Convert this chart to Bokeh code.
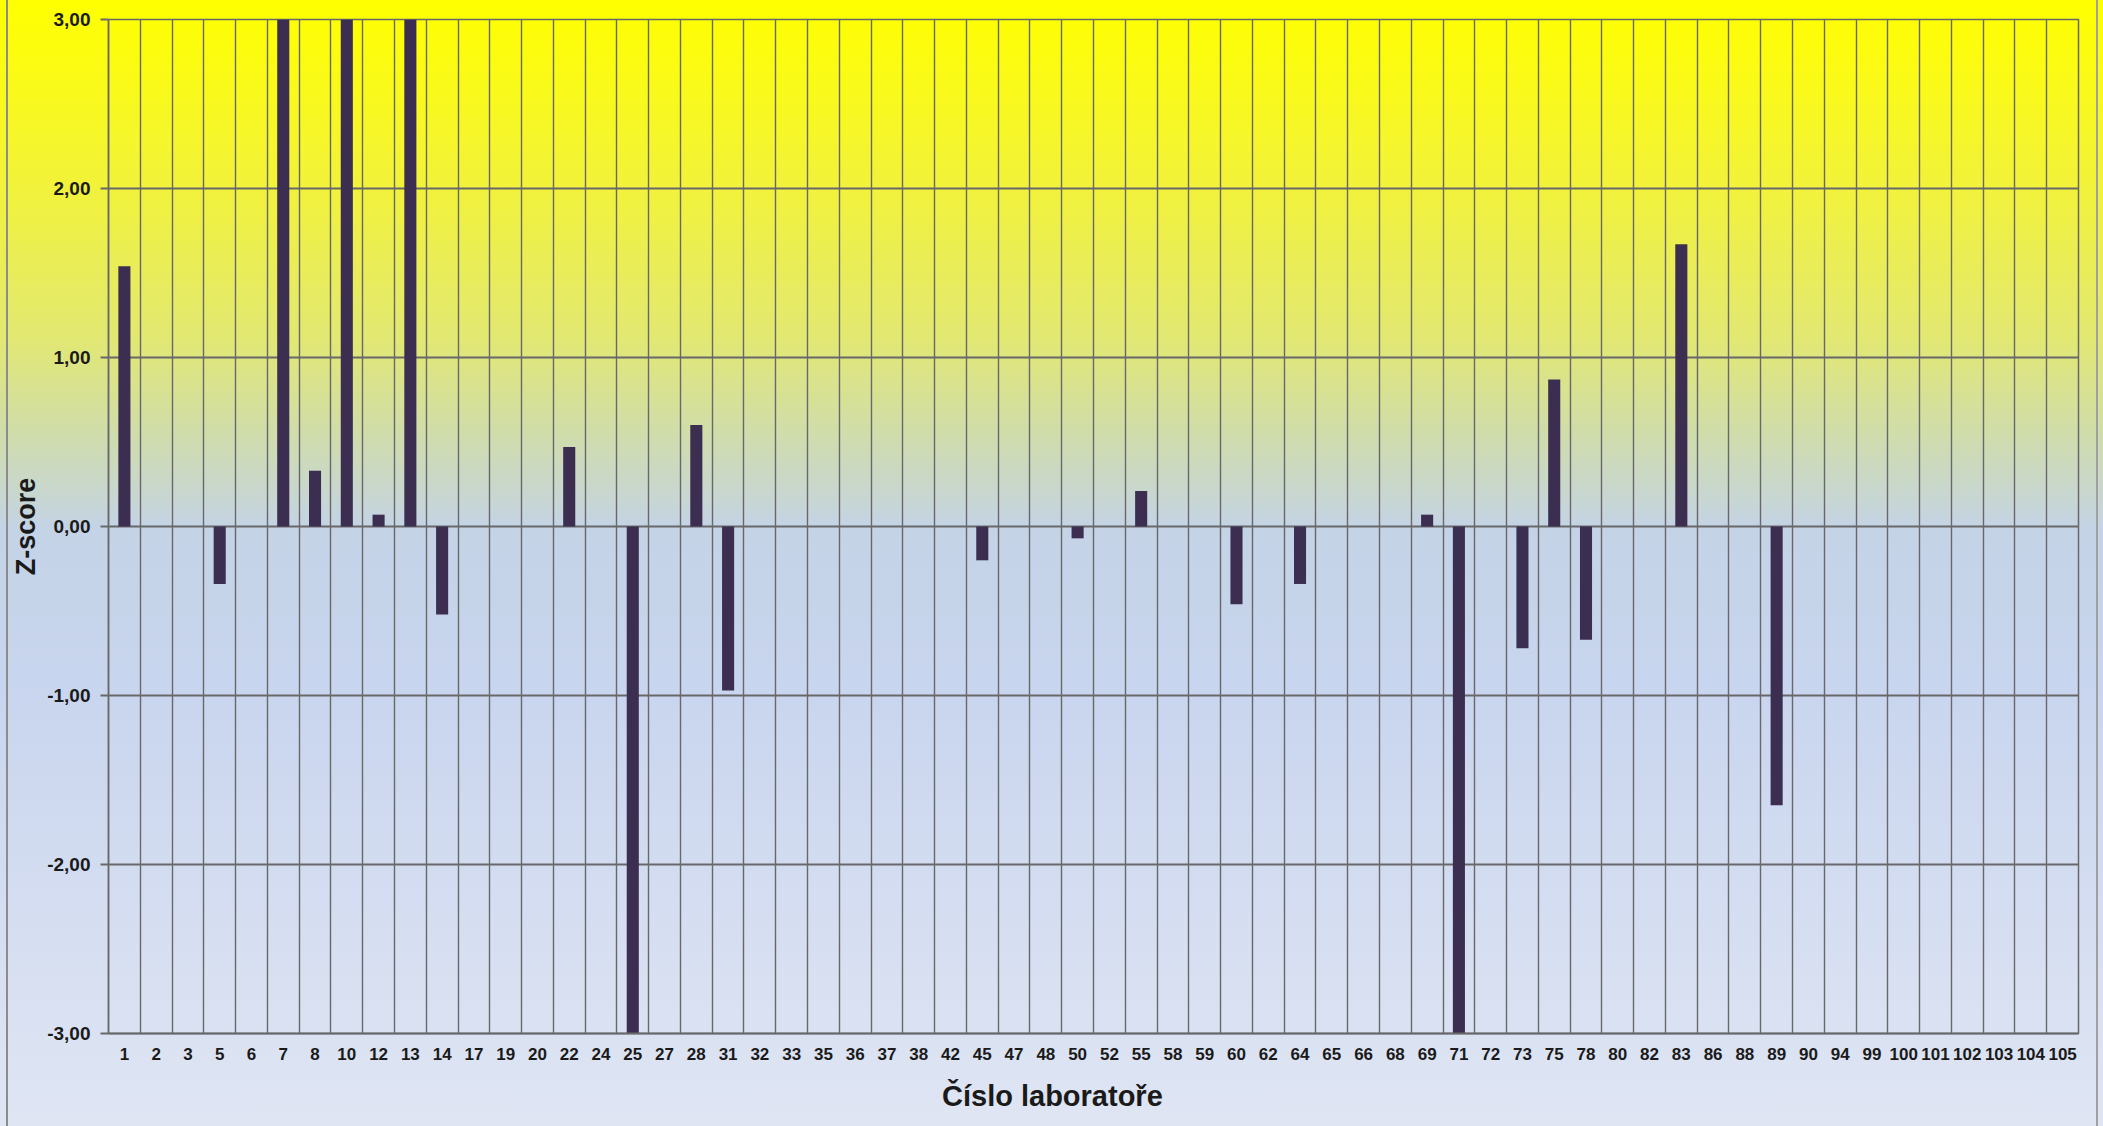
import numpy as np
from bokeh.plotting import figure
from bokeh.models import Range1d, FixedTicker, CustomJSTickFormatter, ColumnDataSource, Title
from bokeh.embed import file_html
from bokeh.resources import INLINE

# ---- data -------------------------------------------------------------
labs = ["1", "2", "3", "5", "6", "7", "8", "10", "12", "13", "14", "17", "19", "20",
        "22", "24", "25", "27", "28", "31", "32", "33", "35", "36", "37", "38", "42",
        "45", "47", "48", "50", "52", "55", "58", "59", "60", "62", "64", "65", "66",
        "68", "69", "71", "72", "73", "75", "78", "80", "82", "83", "86", "88", "89",
        "90", "94", "99", "100", "101", "102", "103", "104", "105"]

nan = float("nan")
zscore = [1.54, nan, nan, -0.34, nan, 3.9, 0.33, 5.2, 0.07, 4.4, -0.52, nan, nan, nan,
          0.47, nan, -3.6, nan, 0.60, -0.97, nan, nan, nan, nan, nan, nan, nan,
          -0.20, nan, nan, -0.07, nan, 0.21, nan, nan, -0.46, nan, -0.34, nan, nan,
          nan, 0.07, -4.8, nan, -0.72, 0.87, -0.67, nan, nan, 1.67, nan, nan, -1.65,
          nan, nan, nan, nan, nan, nan, nan, nan, nan]

y_ticks = [-3, -2, -1, 0, 1, 2, 3]
x_title = "Číslo laboratoře"
y_title = "Z-score"

# ---- figure -------------------------------------------------------------
n = len(labs)
idx = np.arange(n)
src = ColumnDataSource(dict(x=idx + 0.5, top=np.array(zscore, dtype=float), lab=labs))

grid_col = "#68686a"
W, H = 2103, 1126
B_LEFT, B_RIGHT, B_TOP, B_BOTTOM = 108, 25, 19, 91

p = figure(width=W, height=H, output_backend="svg", toolbar_location=None,
           x_range=Range1d(0, n), y_range=Range1d(y_ticks[0], y_ticks[-1]),
           min_border_left=B_LEFT, min_border_right=B_RIGHT, min_border_top=B_TOP,
           min_border_bottom=B_BOTTOM)

p.background_fill_alpha = 0
p.border_fill_alpha = 0
p.outline_line_color = grid_col
p.outline_line_width = 1.5
p.styles = {
    "background-image": (
        "linear-gradient(to right, rgba(0,0,0,0) 6px, #8c8c8c 6px, #8c8c8c 8px, "
        "rgba(0,0,0,0) 8px, rgba(0,0,0,0) 2096px, #a0a0a0 2096px, #a0a0a0 2098px, "
        "rgba(0,0,0,0) 2098px), "
        "linear-gradient(to bottom, #ffff00 0%, #fbfb14 6%, #f1f23c 17%, "
        "#e2e872 30%, #cfdcae 39%, #c4d3e6 47%, #c8d5ee 60%, #d4ddf1 80%, "
        "#dfe5f3 100%)"),
}

p.vbar(x="x", top="top", bottom=0, width=0.38, source=src,
       fill_color="#3b2e50", line_color=None)

# grids
p.xgrid.ticker = FixedTicker(ticks=list(range(n + 1)))
p.xgrid.grid_line_color = grid_col
p.xgrid.grid_line_width = 1.4
p.ygrid.ticker = FixedTicker(ticks=y_ticks)
p.ygrid.grid_line_color = grid_col
p.ygrid.grid_line_width = 2

# x axis
p.xaxis.ticker = FixedTicker(ticks=list(idx + 0.5))
p.xaxis.formatter = CustomJSTickFormatter(args=dict(labels=labs),
                                          code="return labels[Math.floor(tick)];")
p.xaxis.major_tick_out = 0
p.xaxis.major_tick_in = 0
p.xaxis.minor_tick_line_color = None
p.xaxis.axis_line_color = grid_col
p.xaxis.axis_line_width = 2
p.xaxis.major_label_text_font = "Liberation Sans"
p.xaxis.major_label_text_font_style = "bold"
p.xaxis.major_label_text_font_size = "17px"
p.xaxis.major_label_text_color = "#1a1a1a"
p.xaxis.major_label_standoff = 14

# x title, centred on the whole chart area like the original
title_w = 220  # approx. rendered width of the title text
p.add_layout(Title(text=x_title, align="left", offset=W / 2 - B_LEFT - title_w / 2,
                   standoff=30, text_font="Liberation Sans", text_font_style="bold",
                   text_font_size="29px", text_color="#1a1a1a"), "below")

# y axis
p.yaxis.ticker = FixedTicker(ticks=y_ticks)
p.yaxis.formatter = CustomJSTickFormatter(code="return tick.toFixed(2).replace('.', ',');")
p.yaxis.major_tick_out = 8
p.yaxis.major_tick_in = 0
p.yaxis.major_tick_line_color = grid_col
p.yaxis.major_tick_line_width = 2
p.yaxis.minor_tick_line_color = None
p.yaxis.axis_line_color = grid_col
p.yaxis.axis_line_width = 1.5
p.yaxis.major_label_text_font = "Liberation Sans"
p.yaxis.major_label_text_font_style = "bold"
p.yaxis.major_label_text_font_size = "19px"
p.yaxis.major_label_text_color = "#1a1a1a"
p.yaxis.major_label_standoff = 10
p.yaxis.axis_label = y_title
p.yaxis.axis_label_text_font = "Liberation Sans"
p.yaxis.axis_label_text_font_style = "bold"
p.yaxis.axis_label_text_font_size = "27px"
p.yaxis.axis_label_text_color = "#1a1a1a"
p.yaxis.axis_label_standoff = 3

open("out.html", "w").write(file_html(p, INLINE))
